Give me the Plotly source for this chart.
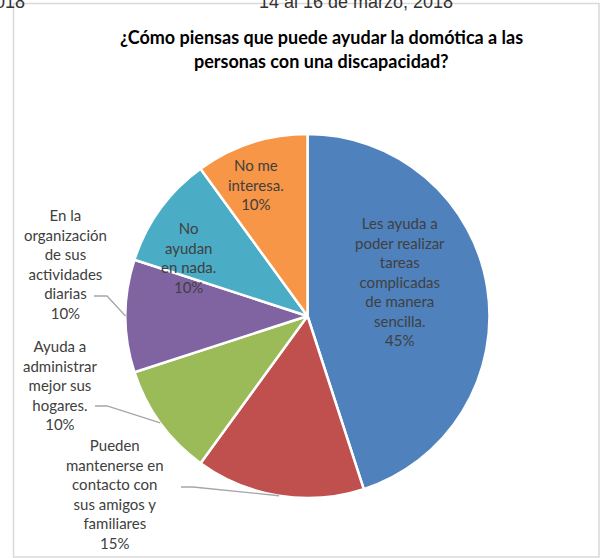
import math
import plotly.graph_objects as go

W, H = 602, 558

# ---- data ----
categories = [
    "Les ayuda a poder realizar tareas complicadas de manera sencilla.",
    "Pueden mantenerse en contacto con sus amigos y familiares",
    "Ayuda a administrar mejor sus hogares.",
    "En la organización de sus actividades diarias",
    "No ayudan en nada.",
    "No me interesa.",
]
values = [45, 15, 10, 10, 10, 10]
label_lines = [
    ["Les ayuda a", "poder realizar", "tareas", "complicadas", "de manera", "sencilla."],
    ["Pueden", "mantenerse en", "contacto con", "sus amigos y", "familiares"],
    ["Ayuda a", "administrar", "mejor sus", "hogares."],
    ["En la", "organización", "de sus", "actividades", "diarias"],
    ["No", "ayudan", "en nada."],
    ["No me", "interesa."],
]
title_lines = ["¿Cómo piensas que puede ayudar la domótica a las",
               "personas con una discapacidad?"]

# ---- styles ----
colors = ["#4F81BD", "#C0504D", "#9BBB59", "#8064A2", "#4BACC6", "#F79646"]
cx, cy, R = 307.5, 316.0, 182.0
label_pos = [(400, 281.5), (115, 493.5), (60, 384.5), (65, 263.5), (188, 257.5), (256, 184)]
leader_start = [None, [(181, 487), (193, 487)], [(95, 406), (107, 406)],
                [(94, 296), (107, 296)], None, None]
LABEL_FONT = dict(family="Lato", size=15, color="#404040")


def px(x):
    return x / W


def py(y):
    return 1 - y / H


fig = go.Figure(go.Pie(
    labels=categories,
    values=values,
    sort=False,
    direction="clockwise",
    rotation=0,
    marker=dict(colors=colors, line=dict(color="white", width=2.5)),
    textinfo="none",
    hoverinfo="skip",
    showlegend=False,
    domain=dict(x=[px(cx - R), px(cx + R)], y=[py(cy + R), py(cy - R)]),
))

annotations = []
shapes = []
total = sum(values)
cum = 0
for i, v in enumerate(values):
    mid = (cum + v / 2) / total * 2 * math.pi
    cum += v
    pct = f"{round(v / total * 100)}%"
    text = "<br>".join(label_lines[i] + [pct])
    lx, ly = label_pos[i]
    annotations.append(dict(
        x=px(lx), y=py(ly), xref="paper", yref="paper", text=text,
        showarrow=False, xanchor="center", yanchor="middle", align="center",
        font=LABEL_FONT,
    ))
    if leader_start[i]:
        ex = cx + R * math.sin(mid)
        ey = cy - R * math.cos(mid)
        pts = leader_start[i] + [(ex, ey)]
        path = "M " + " L ".join(f"{px(a)},{py(b)}" for a, b in pts)
        shapes.append(dict(type="path", path=path, xref="paper", yref="paper",
                           line=dict(color="#A6A6A6", width=1.3)))

# title
for j, (t, ty) in enumerate(zip(title_lines, [37, 61])):
    annotations.append(dict(
        x=px(322), y=py(ty), xref="paper", yref="paper", text=f"<b>{t}</b>",
        showarrow=False, xanchor="center", yanchor="middle",
        font=dict(family="Lato", size=18, color="#000000"),
    ))

# page header fragments (cut off at top)
annotations.append(dict(x=px(455), y=py(2), xref="paper", yref="paper",
                        text="14 al 16 de marzo, 2018", showarrow=False,
                        xanchor="right", yanchor="middle",
                        font=dict(family="Liberation Sans", size=18, color="#333333")))
annotations.append(dict(x=px(27), y=py(2), xref="paper", yref="paper",
                        text="2018", showarrow=False,
                        xanchor="right", yanchor="middle",
                        font=dict(family="Liberation Sans", size=18, color="#333333")))

# chart frame
shapes.append(dict(type="rect", xref="paper", yref="paper",
                   x0=px(13.5), x1=px(599), y0=py(557), y1=py(3.5),
                   line=dict(color="#D9D9D9", width=1.5), layer="below"))

fig.update_layout(
    width=W, height=H,
    margin=dict(l=0, r=0, t=0, b=0),
    paper_bgcolor="white", plot_bgcolor="white",
    annotations=annotations, shapes=shapes,
)

fig.write_html("out.html", config={"displayModeBar": False},
               post_script="document.body.style.margin='0';document.body.style.overflow='hidden';")
